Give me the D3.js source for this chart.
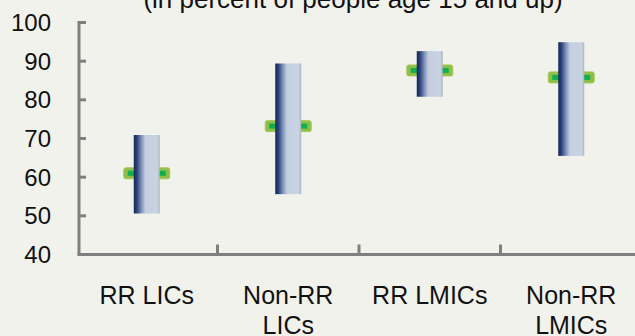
<!DOCTYPE html>
<html>
<head>
<meta charset="utf-8">
<script src="https://cdn.jsdelivr.net/npm/d3@7"></script>
<style>
  html, body { margin: 0; padding: 0; background: #f2f2ed; overflow: hidden; }
  svg { display: block; font-family: "Liberation Sans", Arial, sans-serif; }
</style>
</head>
<body>
<div id="chart"></div>
<script>
// Data
const categories = ["RR LICs", "Non-RR LICs", "RR LMICs", "Non-RR LMICs"];
const categoryLines = [["RR LICs"], ["Non-RR", "LICs"], ["RR LMICs"], ["Non-RR", "LMICs"]];
const lowValues = [50.6, 55.6, 80.8, 65.5];
const highValues = [70.9, 89.4, 92.6, 94.9];
const midValues = [61.0, 73.2, 87.6, 85.8];
const yTickValues = [40, 50, 60, 70, 80, 90, 100];
const titleText = "(in percent of people age 15 and up)";

const WIDTH = 635, HEIGHT = 336;

const svg = d3.select("#chart").append("svg")
    .attr("width", WIDTH)
    .attr("height", HEIGHT);

svg.append("rect").attr("width", WIDTH).attr("height", HEIGHT).attr("fill", "#f2f2ed");

// Gradient for the range bars
const defs = svg.append("defs");
const grad = defs.append("linearGradient")
    .attr("id", "barGrad")
    .attr("x1", "0%").attr("x2", "100%").attr("y1", "0%").attr("y2", "0%");
grad.append("stop").attr("offset", "0%").attr("stop-color", "#16275a");
grad.append("stop").attr("offset", "12%").attr("stop-color", "#2b4278");
grad.append("stop").attr("offset", "30%").attr("stop-color", "#8195bb");
grad.append("stop").attr("offset", "45%").attr("stop-color", "#c3cedf");
grad.append("stop").attr("offset", "90%").attr("stop-color", "#c9d3e2");
grad.append("stop").attr("offset", "100%").attr("stop-color", "#a9b6c2");

// Scales
const x = d3.scaleBand().domain(categories).range([76, 642]);
const y = d3.scaleLinear().domain([40, 100]).range([254.5, 22.5]);

const AXIS_X = 79;
const AXIS_COLOR = "#7f7f7f";

// Title (clipped at the top as in the source)
svg.append("text")
    .attr("x", 353)
    .attr("y", 8)
    .attr("text-anchor", "middle")
    .attr("font-size", 26)
    .attr("fill", "#111")
    .text(titleText);

// Y axis
const yAxis = svg.append("g");
yAxis.append("line")
    .attr("x1", AXIS_X).attr("x2", AXIS_X)
    .attr("y1", y(100) - 1.5).attr("y2", y(40))
    .attr("stroke", AXIS_COLOR).attr("stroke-width", 3);
yAxis.selectAll(".ytick")
    .data(yTickValues.filter(d => d > 40))
    .join("line")
    .attr("class", "ytick")
    .attr("x1", AXIS_X).attr("x2", AXIS_X + 7)
    .attr("y1", d => y(d)).attr("y2", d => y(d))
    .attr("stroke", AXIS_COLOR).attr("stroke-width", 3);
yAxis.selectAll(".ylabel")
    .data(yTickValues)
    .join("text")
    .attr("class", "ylabel")
    .attr("x", 51)
    .attr("y", d => y(d))
    .attr("dy", "0.35em")
    .attr("text-anchor", "end")
    .attr("font-size", 24)
    .attr("fill", "#111")
    .text(d => d);

// X axis
const xAxis = svg.append("g");
xAxis.append("line")
    .attr("x1", AXIS_X - 1.5).attr("x2", WIDTH)
    .attr("y1", y(40)).attr("y2", y(40))
    .attr("stroke", AXIS_COLOR).attr("stroke-width", 3);
xAxis.selectAll(".xtick")
    .data(categories.slice(1))
    .join("line")
    .attr("class", "xtick")
    .attr("x1", d => x(d)).attr("x2", d => x(d))
    .attr("y1", y(40)).attr("y2", y(40) - 10)
    .attr("stroke", AXIS_COLOR).attr("stroke-width", 3);

const labels = xAxis.selectAll(".xlabel")
    .data(categories)
    .join("text")
    .attr("class", "xlabel")
    .attr("x", d => x(d) + x.bandwidth() / 2)
    .attr("y", 304)
    .attr("text-anchor", "middle")
    .attr("font-size", 25)
    .attr("fill", "#111");
labels.selectAll("tspan")
    .data((d, i) => categoryLines[i])
    .join("tspan")
    .attr("x", function() { return d3.select(this.parentNode).attr("x"); })
    .attr("dy", (d, i) => i === 0 ? 0 : 30)
    .text(d => d);

// Midpoint markers (drawn behind the bars)
const BAR_W = 26, MARK_W = 46, MARK_H = 11;
const cx = d => x(d) + x.bandwidth() / 2;

svg.selectAll(".mark-outer")
    .data(categories)
    .join("rect")
    .attr("class", "mark-outer")
    .attr("x", d => cx(d) - MARK_W / 2)
    .attr("y", (d, i) => y(midValues[i]) - MARK_H / 2)
    .attr("width", MARK_W)
    .attr("height", MARK_H)
    .attr("rx", 2)
    .attr("fill", "#8fbe48")
    .attr("stroke", "#a6c85a")
    .attr("stroke-width", 1);

svg.selectAll(".mark-inner")
    .data(categories)
    .join("rect")
    .attr("class", "mark-inner")
    .attr("x", d => cx(d) - 19)
    .attr("y", (d, i) => y(midValues[i]) - 2.5)
    .attr("width", 38)
    .attr("height", 5)
    .attr("fill", "#0fae4f");

// Range bars
svg.selectAll(".range")
    .data(categories)
    .join("rect")
    .attr("class", "range")
    .attr("x", d => cx(d) - BAR_W / 2)
    .attr("y", (d, i) => y(highValues[i]))
    .attr("width", BAR_W)
    .attr("height", (d, i) => y(lowValues[i]) - y(highValues[i]))
    .attr("fill", "url(#barGrad)");
</script>
</body>
</html>
